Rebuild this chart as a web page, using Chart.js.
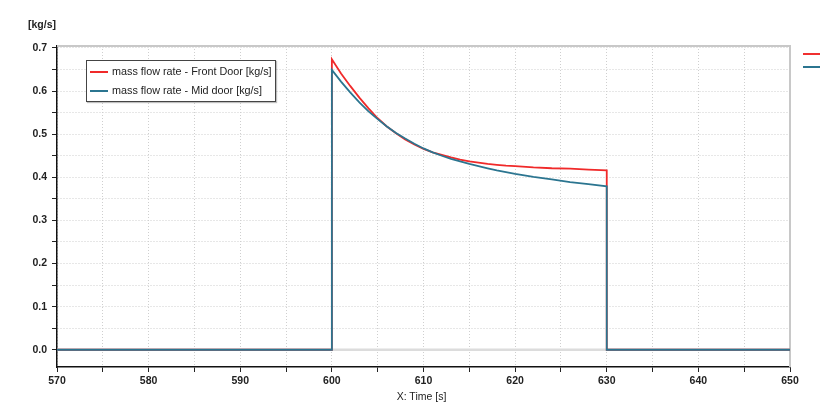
<!DOCTYPE html>
<html><head><meta charset="utf-8">
<script src="https://cdn.jsdelivr.net/npm/chart.js@4.4.0/dist/chart.umd.min.js"></script>
<style>
html,body{margin:0;padding:0;background:#fff;width:825px;height:411px;overflow:hidden}
#wrap{position:relative;width:825px;height:411px}
canvas{position:absolute;left:0;top:0}
.t{position:absolute;font-family:"Liberation Sans",Arial,sans-serif;color:#222;white-space:nowrap}
#legend{position:absolute;left:86px;top:60px;width:188px;height:40px;border:1px solid #444;background:#fff;box-shadow:1px 1px 1px rgba(0,0,0,0.25)}
.row{position:absolute;left:3px;height:14px;font-family:"Liberation Sans",Arial,sans-serif;font-size:10.8px;color:#222;white-space:nowrap}
.sw{position:absolute;left:0;top:6px;width:18px;height:2px}
.lbl{position:absolute;left:22px;top:0}
.mk{position:absolute;width:17px;height:2px}
</style></head><body>
<div id="wrap">
<canvas id="c" width="825" height="411"></canvas>
<div class="t" style="left:28px;top:18px;font-weight:bold;font-size:10.5px">[kg/s]</div>
<div class="t" style="left:0;width:843px;text-align:center;top:390px;font-size:10.5px">X: Time [s]</div>
<div id="legend"></div>
<div class="mk" style="left:803px;top:53px;background:#f03030"></div>
<div class="mk" style="left:803px;top:66px;background:#2b7590"></div>
</div>
<script>
// ---- data ----
const seriesLabels = ["mass flow rate - Front Door [kg/s]", "mass flow rate - Mid door [kg/s]"];
const edgeTimes = [570, 600, 630, 650];          // start, door opens, door closes, end
const openTimes = [600,601,602,603,604,605,606,607,608,609,610,611,612,613,614,615,616,617,618,619,620,622,624,626,628,630];
const frontFlow = [0.674,0.641,0.612,0.585,0.560,0.537,0.518,0.502,0.488,0.476,0.466,0.458,0.452,0.446,0.441,0.437,0.434,0.431,0.429,0.427,0.426,0.423,0.421,0.420,0.418,0.416];
const midFlow   = [0.649,0.622,0.597,0.574,0.553,0.535,0.518,0.503,0.490,0.478,0.467,0.458,0.450,0.443,0.437,0.431,0.426,0.421,0.416,0.412,0.408,0.401,0.395,0.389,0.384,0.379];
const closedFlow = 0;
const xTickLabels = [570,580,590,600,610,620,630,640,650];
const yTickLabels = [0.0,0.1,0.2,0.3,0.4,0.5,0.6,0.7];

const colors = ["#f02a2a", "#2b7590"];

function buildSeries(vals){
  const pts = [{x:edgeTimes[0], y:closedFlow},{x:edgeTimes[1], y:closedFlow}];
  openTimes.forEach((t,i)=>pts.push({x:t, y:vals[i]}));
  pts.push({x:edgeTimes[2], y:closedFlow});
  pts.push({x:edgeTimes[3], y:closedFlow});
  return pts;
}

// HTML legend
const lg = document.getElementById('legend');
seriesLabels.forEach((s,i)=>{
  const r = document.createElement('div');
  r.className='row'; r.style.top = (4 + i*19) + 'px';
  r.innerHTML = '<div class="sw" style="background:'+colors[i]+'"></div><div class="lbl"></div>';
  r.querySelector('.lbl').textContent = s;
  lg.appendChild(r);
});

const framePlugin = {
  id:'frame',
  beforeDatasetsDraw(chart){
    const {ctx, chartArea:a, scales} = chart;
    ctx.save();
    ctx.strokeStyle = '#c8c8c8'; ctx.lineWidth = 2;
    ctx.beginPath();
    ctx.moveTo(a.left, a.top); ctx.lineTo(a.right, a.top); ctx.lineTo(a.right, a.bottom);
    ctx.stroke();
    const y0 = scales.y.getPixelForValue(0);
    ctx.strokeStyle = '#dcdcdc'; ctx.lineWidth = 2.5;
    ctx.beginPath(); ctx.moveTo(a.left, y0); ctx.lineTo(a.right, y0); ctx.stroke();
    ctx.restore();
  }
};

const tickFont = {family:'"Liberation Sans", Arial, sans-serif', size:10.5, weight:'bold'};

new Chart(document.getElementById('c'), {
  type:'line',
  data:{datasets:[
    {label:seriesLabels[1], data:buildSeries(midFlow), borderColor:colors[1], borderWidth:1.8, pointRadius:0, tension:0, fill:false, order:0},
    {label:seriesLabels[0], data:buildSeries(frontFlow), borderColor:colors[0], borderWidth:1.8, pointRadius:0, tension:0, fill:false, order:1}
  ]},
  options:{
    responsive:false, animation:false, devicePixelRatio:1,
    layout:{padding:{top:46, right:35, left:0, bottom:0}},
    plugins:{legend:{display:false}, tooltip:{enabled:false}},
    scales:{
      x:{type:'linear', min:570, max:650,
        afterBuildTicks:s=>{ const t=[]; for(let v=570; v<=650; v+=5) t.push({value:v}); s.ticks=t; },
        afterFit:s=>{ s.height = 44; },
        ticks:{font:tickFont, color:'#222', padding:3, maxRotation:0, autoSkip:false,
          callback:v=> xTickLabels.includes(v) ? String(v) : ''},
        grid:{color:'#cfcfcf', lineWidth:1, tickLength:5, tickColor:'#222', tickWidth:1, drawOnChartArea:true},
        border:{display:true, color:'#111', width:1.5, dash:[1,2]}
      },
      y:{type:'linear', min:-0.04, max:0.7046,
        afterBuildTicks:s=>{ const t=[]; for(let k=0;k<=14;k++) t.push({value:Math.round(k*5)/100}); s.ticks=t; },
        afterFit:s=>{ s.width = 57; },
        ticks:{font:tickFont, color:'#222', padding:5, autoSkip:false,
          callback:v=>{ const r=Math.round(v*100); return r%10===0 ? (r/100).toFixed(1) : ''; }},
        grid:{color:'#cfcfcf', lineWidth:1, tickLength:5, tickColor:'#222', tickWidth:1},
        border:{display:true, color:'#111', width:1.5, dash:[1,2]}
      }
    }
  },
  plugins:[framePlugin]
});
</script>
</body></html>
